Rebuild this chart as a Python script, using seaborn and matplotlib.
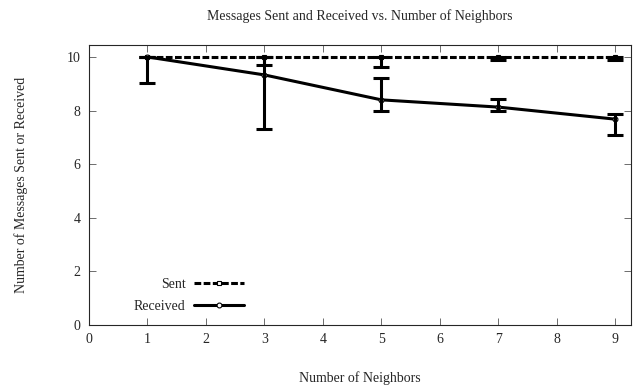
import matplotlib
matplotlib.use("Agg")
import matplotlib.pyplot as plt
import seaborn as sns
import pandas as pd
import numpy as np

neighbors = [1, 3, 5, 7, 9]
sent = [10, 10, 10, 10, 10]
sent_low = [10, 9.7, 9.62, 9.9, 9.9]
sent_high = [10, 10, 10, 10, 10]
received = [10, 9.33, 8.4, 8.13, 7.68]
recv_low = [9.02, 7.33, 8.0, 7.98, 7.1]
recv_high = [10, 10, 9.2, 8.43, 7.88]

sns.set_style("ticks")
plt.rcParams['font.family'] = ['Liberation Serif', 'DejaVu Serif']

df = pd.DataFrame({
    "n": neighbors * 2,
    "value": sent + received,
    "series": ["Sent"] * 5 + ["Received"] * 5,
})

fig = plt.figure(figsize=(6.33, 3.87), dpi=100)
ax = fig.add_axes([0.1406, 0.160, 0.8564, 0.724])

sns.lineplot(data=df, x="n", y="value", hue="series", style="series",
             palette={"Sent": "black", "Received": "black"},
             dashes={"Sent": (2.2, 0.8), "Received": ""},
             markers={"Sent": "s", "Received": "o"},
             markersize=3.5, markerfacecolor="white", markeredgecolor="black",
             markeredgewidth=0.8, linewidth=2.2, ax=ax)

s = np.array(sent); r = np.array(received)
ax.errorbar(neighbors, s, yerr=[s - np.array(sent_low), np.array(sent_high) - s],
            fmt="none", ecolor="black", elinewidth=2.2, capsize=6, capthick=2.2)
ax.errorbar(neighbors, r, yerr=[r - np.array(recv_low), np.array(recv_high) - r],
            fmt="none", ecolor="black", elinewidth=2.2, capsize=6, capthick=2.2)

ax.set_xlim(0, 9.27)
ax.set_ylim(0, 10.45)
ax.set_xticks(range(0, 10))
ax.set_yticks(range(0, 11, 2))
ax.tick_params(direction="in", top=True, right=True, length=5, width=0.6,
               labelsize=10, color="#555555", pad=6)
for sp in ax.spines.values():
    sp.set_linewidth(0.8)

ax.set_xlabel("Number of Neighbors", fontsize=10, labelpad=18)
ax.set_ylabel("Number of Messages Sent or Received", fontsize=10, labelpad=28)
ax.set_title("Messages Sent and Received vs. Number of Neighbors", fontsize=10, pad=18)

h, l = ax.get_legend_handles_labels()
ax.legend(h, l, loc="lower left", bbox_to_anchor=(0.06, 0.0), frameon=False,
          markerfirst=False, fontsize=10, handlelength=3.6, labelspacing=0.65,
          handletextpad=0.6)

fig.savefig("out.png", dpi=100)
